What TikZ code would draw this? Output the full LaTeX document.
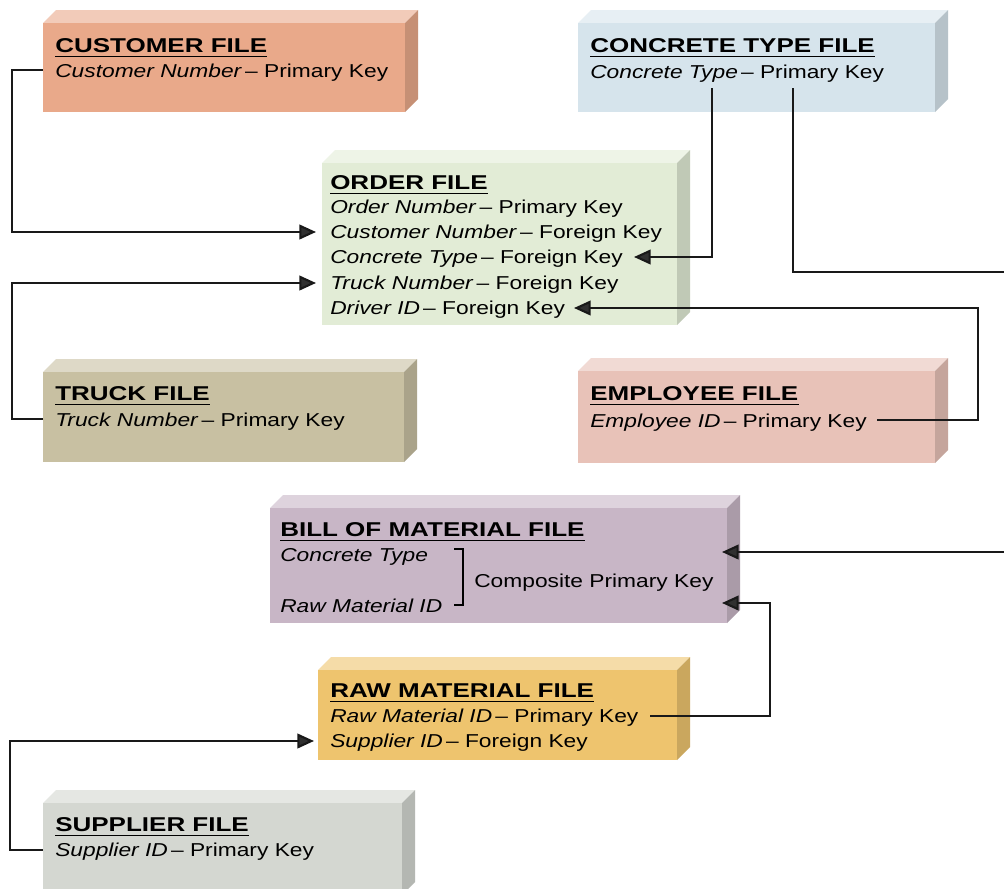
\documentclass[tikz,border=0pt]{standalone}
\usepackage{fontspec}
\setmainfont{Liberation Sans}[FakeStretch=1.22]
\newfontfamily\ttlfont{Liberation Sans}[FakeStretch=1.3]
\usetikzlibrary{arrows.meta}
\definecolor{custC}{HTML}{E9A98A}
\definecolor{concC}{HTML}{D6E4EC}
\definecolor{ordC}{HTML}{E2ECD6}
\definecolor{truckC}{HTML}{C8C0A2}
\definecolor{emplC}{HTML}{E8C2B8}
\definecolor{bomC}{HTML}{C8B6C6}
\definecolor{rawC}{HTML}{EEC46E}
\definecolor{suppC}{HTML}{D4D7D1}
\definecolor{arrC}{HTML}{303030}
\newcommand\blockfile[6]{%
  \fill[#6!60!white] (#2,#3) -- (#2+13,#3-13) -- (#4+13,#3-13) -- (#4,#3) -- cycle;
  \fill[#6!85!black] (#4,#3) -- (#4+13,#3-13) -- (#4+13,#5-13) -- (#4,#5) -- cycle;
  \fill[#6] (#2,#3) rectangle (#4,#5);
  \coordinate (#1) at (#2,#3);}
\begin{document}
\begin{tikzpicture}[x=0.75pt,y=-0.75pt,
  ttl/.style={anchor=base west, inner sep=0pt, font=\ttlfont\bfseries\fontsize{15pt}{18pt}\selectfont},
  txt/.style={anchor=base west, inner sep=0pt, font=\fontsize{14pt}{17pt}\selectfont},
  ul/.style={line width=1.1pt},
  conn/.style={line width=1.6pt, draw=black!90},
  arr/.style={conn, -{Triangle[length=12.5pt,width=11pt,fill=arrC]}}]
\useasboundingbox (0,0) rectangle (1004,889);
\fill[white] (0,0) rectangle (1004,889);

% boxes
\blockfile{custbox}{43}{23}{405}{112}{custC}
\blockfile{concbox}{578}{23}{935}{112}{concC}
\blockfile{ordbox}{322}{163}{677}{325}{ordC}
\blockfile{truckbox}{43}{372}{404}{462}{truckC}
\blockfile{emplbox}{578}{371}{935}{463}{emplC}
\blockfile{bombox}{270}{508}{727}{623}{bomC}
\blockfile{rawbox}{318}{670}{677}{760}{rawC}
\blockfile{suppbox}{43}{803}{402}{895}{suppC}

% texts
\node[ttl] (custT) at (55,52) {CUSTOMER FILE};
\node[txt] (custL) at (55,77) {\textit{Customer Number}\,– Primary Key};
\node[ttl] (concT) at (590,52) {CONCRETE TYPE FILE};
\node[txt] (concL) at (590,78) {\textit{Concrete Type}\,– Primary Key};
\node[ttl] (ordT) at (330,189) {ORDER FILE};
\node[txt] (ord1) at (330,213) {\textit{Order Number}\,– Primary Key};
\node[txt] (ord2) at (330,238) {\textit{Customer Number}\,– Foreign Key};
\node[txt] (ord3) at (330,263) {\textit{Concrete Type}\,– Foreign Key};
\node[txt] (ord4) at (330,289) {\textit{Truck Number}\,– Foreign Key};
\node[txt] (ord5) at (330,314) {\textit{Driver ID}\,– Foreign Key};
\node[ttl] (truckT) at (55,400) {TRUCK FILE};
\node[txt] (truckL) at (55,426) {\textit{Truck Number}\,– Primary Key};
\node[ttl] (emplT) at (590,400) {EMPLOYEE FILE};
\node[txt] (emplL) at (590,427) {\textit{Employee ID}\,– Primary Key};
\node[ttl] (bomT) at (280,536) {BILL OF MATERIAL FILE};
\node[txt] (bom1) at (280,561) {\textit{Concrete Type}};
\node[txt] (bom2) at (280,612) {\textit{Raw Material ID}};
\node[txt] (bomK) at (474,587) {Composite Primary Key};
\node[ttl] (rawT) at (330,697) {RAW MATERIAL FILE};
\node[txt] (raw1) at (330,722) {\textit{Raw Material ID}\,– Primary Key};
\node[txt] (raw2) at (330,747) {\textit{Supplier ID}\,– Foreign Key};
\node[ttl] (suppT) at (55,831) {SUPPLIER FILE};
\node[txt] (suppL) at (55,856) {\textit{Supplier ID}\,– Primary Key};

% underlines
\foreach \t in {custT,concT,ordT,truckT,emplT,bomT,rawT,suppT}
  \draw[ul] ([yshift=-3pt]\t.south west) -- ([yshift=-3pt]\t.south east);

% bracket
\draw[line width=0.9pt] (454,549) -- (463,549) -- (463,605) -- (454,605);

% connector end points
\coordinate (custOut) at (43,70);
\coordinate (ordCustIn) at (316,232);
\coordinate (truckOut) at (43,419);
\coordinate (ordTruckIn) at (316,283);
\coordinate (concOutA) at (712,88);
\coordinate (ordConcIn) at (634,257);
\coordinate (concOutB) at (793,88);
\coordinate (rightA) at (1006,272);
\coordinate (emplOut) at (877,420);
\coordinate (ordDrvIn) at (574,308);
\coordinate (rightB) at (1006,552);
\coordinate (bomInA) at (722,552);
\coordinate (rawOut) at (650,716);
\coordinate (bomInB) at (722,603);
\coordinate (suppOut) at (43,850);
\coordinate (rawSuppIn) at (314,741);

% connectors
\draw[arr] (custOut) -- (12,70) |- (ordCustIn);
\draw[arr] (truckOut) -- (12,419) |- (ordTruckIn);
\draw[arr] (concOutA) |- (ordConcIn);
\draw[conn] (concOutB) |- (rightA);
\draw[arr] (emplOut) -- (978,420) |- (ordDrvIn);
\draw[arr] (rightB) -- (bomInA);
\draw[arr] (rawOut) -- (770,716) |- (bomInB);
\draw[arr] (suppOut) -- (10,850) |- (rawSuppIn);
\end{tikzpicture}
\end{document}
